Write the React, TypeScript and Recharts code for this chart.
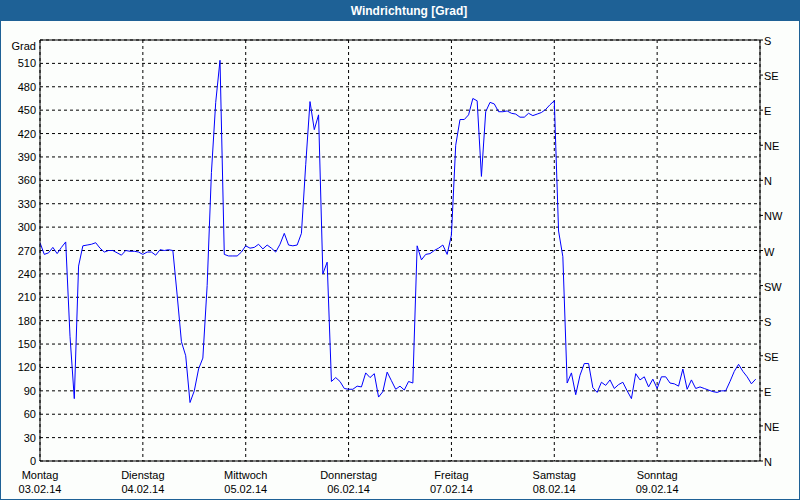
import { LineChart, Line, XAxis, YAxis, CartesianGrid, ReferenceLine } from "recharts";

const days = ["Montag", "Dienstag", "Mittwoch", "Donnerstag", "Freitag", "Samstag", "Sonntag"];
const dates = ["03.02.14", "04.02.14", "05.02.14", "06.02.14", "07.02.14", "08.02.14", "09.02.14"];
const hourTicks = [0, 24, 48, 72, 96, 120, 144, 168];

const gradTicks = [0, 30, 60, 90, 120, 150, 180, 210, 240, 270, 300, 330, 360, 390, 420, 450, 480, 510, 540];
const compassTicks = [0, 45, 90, 135, 180, 225, 270, 315, 360, 405, 450, 495, 540];
const compassLabels = ["N", "NE", "E", "SE", "S", "SW", "W", "NW", "N", "NE", "E", "SE", "S"];

// hourly wind direction in degrees, 03.02.14 00:00 .. 09.02.14 23:00
const windDirection = [
  // Montag
  280, 265, 267, 274, 266, 274, 281, 160, 80, 250, 276, 277,
  278, 280, 273, 268, 270, 270, 267, 264, 270, 269, 269, 268,
  // Dienstag
  265, 268, 268, 264, 271, 270, 271, 270, 213, 153, 135, 75,
  90, 118, 132, 225, 370, 460, 514, 265, 263, 263, 263, 268,
  // Mittwoch
  276, 273, 274, 278, 272, 277, 273, 268, 278, 292, 277, 276,
  277, 292, 380, 461, 425, 444, 240, 255, 102, 107, 102, 93,
  // Donnerstag
  92, 92, 96, 95, 113, 107, 112, 82, 89, 114, 103, 92,
  96, 91, 102, 100, 276, 258, 265, 266, 270, 273, 277, 265,
  // Freitag
  290, 405, 438, 438, 444, 465, 462, 365, 448, 460, 458, 448,
  448, 449, 446, 445, 441, 441, 446, 443, 445, 447, 451, 457,
  // Samstag
  462, 295, 262, 100, 113, 85, 110, 125, 125, 94, 88, 101,
  97, 104, 93, 98, 101, 90, 80, 112, 104, 108, 95, 105,
  // Sonntag
  93, 108, 108, 100, 99, 96, 118, 92, 104, 93, 95, 93,
  91, 89, 88, 90, 90, 102, 115, 124, 115, 108, 99, 105,
];

const data = windDirection.map((grad, h) => ({ h, grad }));

const FONT = "'Liberation Sans', Arial, sans-serif";

const DayTick = ({ x, y, payload }: any) => {
  const i = Math.round(payload.value / 24);
  if (i >= days.length) return null;
  return (
    <g fontFamily={FONT} fontSize={11} fill="#000">
      <text x={x} y={y + 18} textAnchor="middle">{days[i]}</text>
      <text x={x} y={y + 32} textAnchor="middle">{dates[i]}</text>
    </g>
  );
};

const GradTick = ({ x, y, payload }: any) => (
  <text x={x} y={payload.value === 540 ? y + 10 : y + 4} textAnchor="end" fontFamily={FONT} fontSize={11} fill="#000">
    {payload.value === 540 ? "Grad" : payload.value}
  </text>
);

const CompassTick = ({ x, y, payload }: any) => (
  <text x={x} y={y + 5} textAnchor="start" fontFamily={FONT} fontSize={11} fill="#000">
    {compassLabels[compassTicks.indexOf(payload.value)]}
  </text>
);

export default function App() {
  return (
    <div
      style={{
        position: "absolute",
        left: 0,
        top: 0,
        width: 800,
        height: 500,
        boxSizing: "border-box",
        border: "1px solid #1e6196",
        background: "#fcfefc",
        fontFamily: FONT,
      }}
    >
      <div
        style={{
          position: "absolute",
          left: 0,
          top: 0,
          right: 0,
          height: 20,
          background: "#1e6196",
          color: "#fff",
          fontWeight: "bold",
          fontSize: 12,
          lineHeight: "20px",
          textAlign: "center",
          paddingLeft: 18,
        }}
      >
        Windrichtung [Grad]
      </div>
      <div style={{ position: "absolute", left: -1, top: -1 }}>
        <LineChart width={800} height={500} data={data} margin={{ top: 40, right: 0, bottom: 0, left: 0 }}>
          <CartesianGrid xAxisId="x" yAxisId="left" stroke="#000" strokeDasharray="3 3" />
          <XAxis
            xAxisId="x"
            dataKey="h"
            type="number"
            domain={[0, 168]}
            ticks={hourTicks}
            height={39}
            tickLine={false}
            tickSize={0}
            tickMargin={0}
            axisLine={{ stroke: "#000" }}
            tick={<DayTick />}
            interval={0}
          />
          <YAxis
            yAxisId="left"
            domain={[0, 540]}
            ticks={gradTicks}
            width={40}
            tickLine={false}
            tickSize={0}
            tickMargin={4}
            axisLine={{ stroke: "#000" }}
            tick={<GradTick />}
            interval={0}
          />
          <YAxis
            yAxisId="right"
            orientation="right"
            type="number"
            domain={[0, 540]}
            ticks={compassTicks}
            width={40}
            tickSize={3}
            tickMargin={1}
            tickLine={{ stroke: "#000" }}
            axisLine={{ stroke: "#000" }}
            tick={<CompassTick />}
            interval={0}
          />
          <ReferenceLine xAxisId="x" yAxisId="left" y={540} stroke="#000" strokeDasharray="0" />
          <Line
            xAxisId="x"
            yAxisId="right"
            type="linear"
            dataKey="grad"
            stroke="none"
            dot={false}
            activeDot={false}
            isAnimationActive={false}
          />
          <Line
            xAxisId="x"
            yAxisId="left"
            type="linear"
            dataKey="grad"
            stroke="#0000ff"
            strokeWidth={1}
            dot={false}
            isAnimationActive={false}
          />
        </LineChart>
      </div>
    </div>
  );
}
